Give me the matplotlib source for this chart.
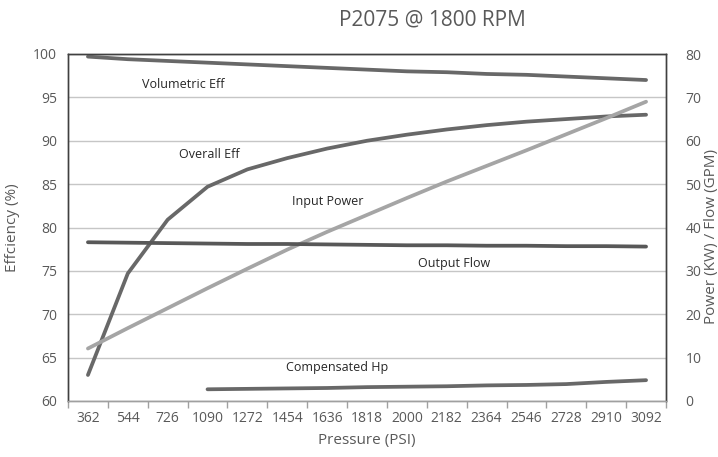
import numpy as np
import matplotlib
matplotlib.use("Agg")
import matplotlib.pyplot as plt

plt.rcParams['font.family'] = ['Open Sans', 'DejaVu Sans']

pressure = ["362", "544", "726", "1090", "1272", "1454", "1636", "1818",
            "2000", "2182", "2364", "2546", "2728", "2910", "3092"]
volumetric_eff = [99.7, 99.4, 99.2, 99.0, 98.8, 98.6, 98.4, 98.2, 98.0,
                  97.9, 97.7, 97.6, 97.4, 97.2, 97.0]
overall_eff = [63.0, 74.7, 80.9, 84.7, 86.7, 88.0, 89.1, 90.0, 90.7,
               91.3, 91.8, 92.2, 92.5, 92.8, 93.0]
input_power = [12.1, 16.8, 21.4, 26.0, 30.5, 34.9, 39.0, 42.9, 46.8,
               50.6, 54.2, 57.8, 61.5, 65.2, 69.0]
output_flow = [36.6, 36.5, 36.4, 36.3, 36.2, 36.2, 36.1, 36.0, 35.9,
               35.9, 35.8, 35.8, 35.7, 35.7, 35.6]
comp_hp = [np.nan, np.nan, np.nan, 2.7, 2.8, 2.9, 3.0, 3.2, 3.3,
           3.4, 3.6, 3.7, 3.9, 4.4, 4.8]

W, H = 718, 457
fig = plt.figure(figsize=(W / 100, H / 100), dpi=100)
L, R, T, B = 68, 666, 54, 401
ax = fig.add_axes([L / W, 1 - B / H, (R - L) / W, (B - T) / H])
ax2 = ax.twinx()

x = np.arange(len(pressure))
dark = '#686868'
lw = 2.7
ax.plot(x, volumetric_eff, color=dark, lw=lw, solid_capstyle='round', zorder=3)
ax.plot(x, overall_eff, color=dark, lw=lw, solid_capstyle='round', zorder=3)
ax2.plot(x, input_power, color='#a5a5a5', lw=lw, solid_capstyle='round', zorder=3)
ax2.plot(x, output_flow, color='#585858', lw=lw, solid_capstyle='round', zorder=3)
ax2.plot(x, comp_hp, color=dark, lw=lw, solid_capstyle='round', zorder=3)

ax.set_xlim(-0.5, len(pressure) - 0.5)
ax.set_ylim(60, 100)
ax2.set_ylim(0, 80)
ax.set_yticks(np.arange(60, 101, 5))
ax2.set_yticks(np.arange(0, 81, 10))
ax.yaxis.grid(True, color='#c6c6c6', lw=1.0)
ax.set_axisbelow(True)

ax.set_xticks(x)
ax.set_xticklabels(pressure)
ax.set_xticks(np.arange(-0.5, len(pressure)), minor=True)
ax.tick_params(axis='x', which='major', length=0, pad=7, labelsize=10, labelcolor='#595959')
ax.tick_params(axis='x', which='minor', length=5, color='#a0a0a0', width=1)
ax.tick_params(axis='y', length=0, pad=8, labelsize=10, labelcolor='#595959')
ax2.tick_params(axis='y', length=0, pad=14, labelsize=10, labelcolor='#595959')

for a in (ax, ax2):
    for s in ('left', 'right', 'top'):
        a.spines[s].set_color('#404040')
        a.spines[s].set_linewidth(1.0)
    a.spines['bottom'].set_color('#a0a0a0')
    a.spines['bottom'].set_linewidth(1.0)

ax.set_xlabel('Pressure (PSI)', fontsize=11, color='#595959', labelpad=5)
fig.text(13 / W, 1 - 228 / H, 'Effciency (%)', rotation=90, ha='center', va='center',
         fontsize=11, color='#595959')
fig.text(712 / W, 1 - 237 / H, 'Power (KW) / Flow (GPM)', rotation=90, ha='center',
         va='center', fontsize=11, color='#595959')
fig.text(432 / W, 1 - 20 / H, 'P2075 @ 1800 RPM', ha='center', va='center',
         fontsize=15, color='#595959')

def ann(px, py, s):
    ax.text((px - L) / (R - L), (B - py) / (B - T), s, transform=ax.transAxes,
            ha='center', va='center', fontsize=9, color='#262626', zorder=5)

ann(183, 85, 'Volumetric Eff')
ann(209, 155, 'Overall Eff')
ann(328, 202, 'Input Power')
ann(454, 264, 'Output Flow')
ann(337, 367, 'Compensated Hp')

fig.savefig('out.png', dpi=100)
